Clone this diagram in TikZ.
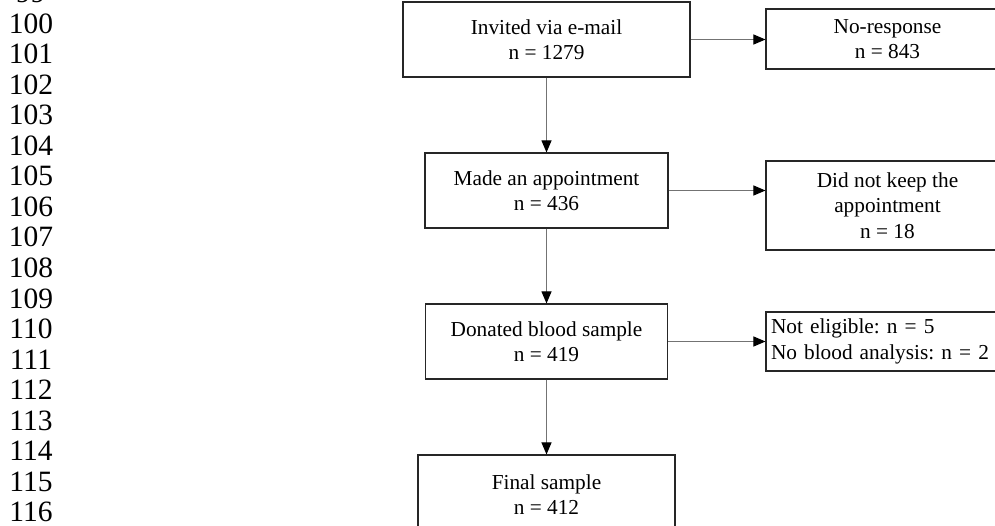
\documentclass[tikz,border=0pt]{standalone}
\usepackage{fontspec}
\setmainfont{Liberation Serif}
\usetikzlibrary{arrows.meta}
\begin{document}
\frenchspacing
\begin{tikzpicture}[x=1pt,y=-1pt,
  box/.style={draw=black!85, line width=1.1pt, inner sep=0pt, align=center,
    font=\fontsize{21.3}{25.5}\selectfont},
  conn/.style={draw=black!55, line width=1pt,
    -{Triangle[length=12pt,width=10pt,color=black]}},
  lnum/.style={font=\fontsize{29.5}{30}\selectfont, anchor=base}]
\useasboundingbox (0,0) rectangle (995,525);
\clip (0,0) rectangle (995,525);
% line numbers
\foreach \i in {0,...,17}{
  \pgfmathtruncatemacro{\num}{99+\i}
  \node[lnum] (ln\i) at (31,{2.44+30.56*\i}) {\num};
}
% boxes
\node[box, minimum width=287pt, minimum height=75pt] (B1) at (546.5,39.5)
  {Invited via e-mail\\n = 1279};
\node[box, minimum width=243pt, minimum height=60pt] (NR) at (887.5,39)
  {No-response\\n = 843};
\node[box, minimum width=243pt, minimum height=75pt] (B2) at (546.5,190.5)
  {Made an appointment\\n = 436};
\node[box, minimum width=243pt, minimum height=89pt] (DNK) at (887.5,205.5)
  {Did not keep the\\appointment\\n = 18};
\node[box, minimum width=242pt, minimum height=75pt] (B3) at (546.5,341.5)
  {Donated blood sample\\n = 419};
\node[box, text width=233pt, inner xsep=5pt, align=left, minimum height=59pt] (NE) at (887.5,341.5)
  {Not eligible: n = 5\\No blood analysis: n = 2};
\node[box, minimum width=257pt, minimum height=79pt] (B4) at (546.5,494.5)
  {Final sample\\n = 412};
% connectors
\draw[conn] (B1.east) -- (B1.east -| NR.west);
\draw[conn] (B1.south) -- (B2.north);
\draw[conn] (B2.east) -- (B2.east -| DNK.west);
\draw[conn] (B2.south) -- (B3.north);
\draw[conn] (B3.east) -- (B3.east -| NE.west);
\draw[conn] (B3.south) -- (B4.north);
\end{tikzpicture}
\end{document}
